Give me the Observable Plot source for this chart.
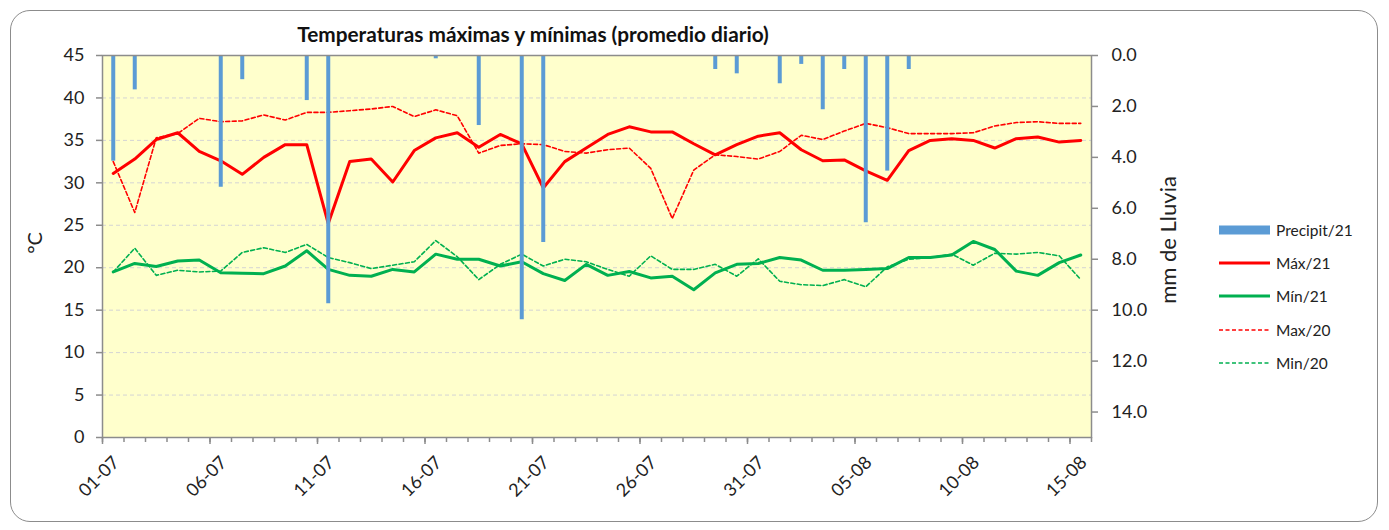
<!DOCTYPE html>
<html>
<head>
<meta charset="utf-8">
<script src="https://cdn.jsdelivr.net/npm/d3@7"></script>
<script src="https://cdn.jsdelivr.net/npm/@observablehq/plot@0.6"></script>
<style>
  html, body { margin: 0; padding: 0; background: #fff; }
  #wrap { position: relative; width: 1389px; height: 530px; font-family: Lato, "Noto Sans", sans-serif; color: #222; }
  #wrap svg { position: absolute; left: 0; top: 0; }
  .box { position: absolute; left: 10px; top: 10px; width: 1366px; height: 510px; border: 1.5px solid #8c8c8c; border-radius: 20px; pointer-events: none; }
  .title { position: absolute; top: 21px; left: 0; width: 1066px; text-align: center; font-weight: bold; font-size: 20.8px; color: #111; line-height: 26px; }
  .ylab { position: absolute; white-space: nowrap; transform: translate(-50%, -50%) rotate(-90deg); }
  .legend { position: absolute; left: 1219px; top: 213px; font-size: 15.5px; }
  .legend .item { display: flex; align-items: center; height: 33.3px; }
  .legend svg { position: static !important; margin-right: 6px; }
</style>
</head>
<body>
<div id="wrap">
  <div class="box"></div>
  <div class="title">Temperaturas máximas y mínimas (promedio diario)</div>
  <div class="ylab" style="left:34px; top:243px; font-size:20px;">°C</div>
  <div class="ylab" style="left:1167px; top:240px; font-size:22px;">mm de Lluvia</div>
  <div class="legend" id="legend"></div>
</div>
<script>
// ---- data ----
const dates = [
  "01-07","02-07","03-07","04-07","05-07","06-07","07-07","08-07","09-07","10-07",
  "11-07","12-07","13-07","14-07","15-07","16-07","17-07","18-07","19-07","20-07",
  "21-07","22-07","23-07","24-07","25-07","26-07","27-07","28-07","29-07","30-07",
  "31-07","01-08","02-08","03-08","04-08","05-08","06-08","07-08","08-08","09-08",
  "10-08","11-08","12-08","13-08","14-08","15-08"
];
const max21 = [31.1,32.8,35.1,35.9,33.7,32.6,31.0,33.0,34.5,34.5,
  25.2,32.5,32.8,30.1,33.8,35.3,35.9,34.2,35.7,34.6,
  29.4,32.5,34.1,35.7,36.6,36.0,36.0,34.6,33.3,34.5,
  35.5,35.9,33.9,32.6,32.7,31.4,30.3,33.8,35.0,35.2,
  35.0,34.1,35.2,35.4,34.8,35.0];
const min21 = [19.5,20.5,20.15,20.8,20.9,19.4,19.35,19.3,20.2,22.0,
  19.8,19.1,19.0,19.8,19.5,21.6,21.0,21.0,20.2,20.7,
  19.3,18.5,20.4,19.1,19.55,18.8,19.0,17.4,19.4,20.4,
  20.5,21.2,20.9,19.7,19.7,19.8,19.9,21.2,21.2,21.5,
  23.1,22.15,19.6,19.1,20.6,21.5];
const max20 = [32.5,26.5,35.3,35.8,37.6,37.2,37.3,38.0,37.4,38.3,
  38.3,38.5,38.7,39.0,37.8,38.6,37.9,33.5,34.4,34.6,
  34.5,33.7,33.5,33.9,34.1,31.7,25.8,31.5,33.3,33.1,
  32.8,33.7,35.6,35.1,36.1,37.0,36.5,35.8,35.8,35.8,
  35.9,36.7,37.1,37.2,37.0,37.0];
const min20 = [19.5,22.3,19.1,19.7,19.5,19.6,21.8,22.35,21.8,22.75,
  21.2,20.6,19.9,20.3,20.7,23.2,21.3,18.6,20.4,21.6,
  20.2,21.0,20.7,19.8,19.0,21.4,19.8,19.8,20.4,19.0,
  21.05,18.4,18.0,17.9,18.6,17.75,20.1,21.0,21.2,21.6,
  20.3,21.7,21.6,21.8,21.4,18.6];
const precip21 = [4.15,1.35,0,0,0,5.17,0.95,0,0,1.77,
  9.75,0,0,0,0,0.13,0,2.75,0,10.38,
  7.34,0,0,0,0,0,0,0,0.55,0.72,
  0,1.11,0.35,2.13,0.55,6.57,4.54,0.55,0,0,
  0,0,0,0,0,0];
const tempTicks = [0,5,10,15,20,25,30,35,40,45];
const rainTicks = [0,2,4,6,8,10,12,14];
const labelEvery = 5;
const legendLabels = ["Precipit/21","Máx/21","Mín/21","Max/20","Min/20"];

// ---- scales: secondary (rain) axis reversed, 0..15 mm across 45..0 °C ----
const TEMP_MAX = 45, RAIN_MAX = 15;
const rainToTemp = mm => TEMP_MAX - mm * TEMP_MAX / RAIN_MAX;

const rows = dates.map((d, i) => ({i, date: d, max21: max21[i], min21: min21[i], max20: max20[i], min20: min20[i], rain: precip21[i]}));
const boundaries = d3.range(0, dates.length + 1).map(k => k - 0.5);
const majorBoundaries = boundaries.filter((b, k) => k % labelEvery === 0);
const labelIdx = d3.range(0, dates.length, labelEvery);

const RED = "#FF0000", GREEN = "#00B050", BLUE = "#5B9BD5", AXIS = "#8c8c8c";

const chart = Plot.plot({
  width: 1389, height: 530,
  marginLeft: 102, marginRight: 298, marginTop: 55, marginBottom: 93,
  x: {type: "linear", domain: [-0.5, dates.length - 0.5], axis: null},
  y: {domain: [0, TEMP_MAX], axis: null},
  style: {fontFamily: "Lato, 'Noto Sans', sans-serif", fontSize: "18px", color: "#222", background: "transparent", overflow: "visible"},
  marks: [
    Plot.frame({fill: "#FFFFCC", stroke: null}),
    Plot.gridY(tempTicks.filter(t => t > 0 && t < TEMP_MAX), {stroke: "#d4d4d4", strokeOpacity: 1, strokeDasharray: "4,3"}),
    Plot.line(rows, {x: "i", y: "max20", stroke: RED, strokeWidth: 1.6, strokeDasharray: "4,2.5"}),
    Plot.line(rows, {x: "i", y: "min20", stroke: GREEN, strokeWidth: 1.6, strokeDasharray: "4,2.5"}),
    Plot.line(rows, {x: "i", y: "max21", stroke: RED, strokeWidth: 3, strokeLinejoin: "round"}),
    Plot.line(rows, {x: "i", y: "min21", stroke: GREEN, strokeWidth: 3, strokeLinejoin: "round"}),
    Plot.ruleX(rows.filter(r => r.rain > 0), {x: "i", y1: TEMP_MAX, y2: r => rainToTemp(r.rain), stroke: BLUE, strokeWidth: 4}),
    Plot.frame({stroke: AXIS, strokeWidth: 1.5}),
    Plot.axisY({anchor: "left", ticks: tempTicks, tickSize: 6, tickPadding: 12, label: null, stroke: AXIS, fill: "#222", strokeWidth: 1.5, fontSize: 18}),
    Plot.axisY({anchor: "right", ticks: rainTicks.map(rainToTemp), tickFormat: c => ((TEMP_MAX - c) * RAIN_MAX / TEMP_MAX).toFixed(1), tickSize: 6, tickPadding: 14, label: null, stroke: AXIS, fill: "#222", strokeWidth: 1.5, fontSize: 18}),
    Plot.axisX({ticks: boundaries, tickSize: 5, tickFormat: () => "", label: null, stroke: AXIS, strokeWidth: 1.5}),
    Plot.axisX({ticks: majorBoundaries, tickSize: 7, tickFormat: () => "", label: null, stroke: AXIS, strokeWidth: 1.5}),
    Plot.axisX({ticks: labelIdx, tickFormat: i => dates[i], tickSize: 0, tickPadding: 22, tickRotate: -45, label: null, fill: "#222", fontSize: 18, dx: 3})
  ]
});
document.getElementById("wrap").insertBefore(chart, document.querySelector(".box"));

// ---- legend ----
const legendStyles = [
  {kind: "bar", color: BLUE},
  {kind: "line", color: RED, width: 3, dash: null},
  {kind: "line", color: GREEN, width: 3, dash: null},
  {kind: "line", color: RED, width: 1.6, dash: "4,2.5"},
  {kind: "line", color: GREEN, width: 1.6, dash: "4,2.5"}
];
const legend = d3.select("#legend");
legendLabels.forEach((lab, k) => {
  const s = legendStyles[k];
  const item = legend.append("div").attr("class", "item");
  const sw = item.append("svg").attr("width", 51).attr("height", 12);
  if (s.kind === "bar") sw.append("rect").attr("x", 0).attr("y", 1.5).attr("width", 51).attr("height", 9).attr("fill", s.color);
  else sw.append("line").attr("x1", 0).attr("x2", 51).attr("y1", 6).attr("y2", 6).attr("stroke", s.color).attr("stroke-width", s.width).attr("stroke-dasharray", s.dash);
  item.append("span").text(lab);
});
</script>
</body>
</html>
